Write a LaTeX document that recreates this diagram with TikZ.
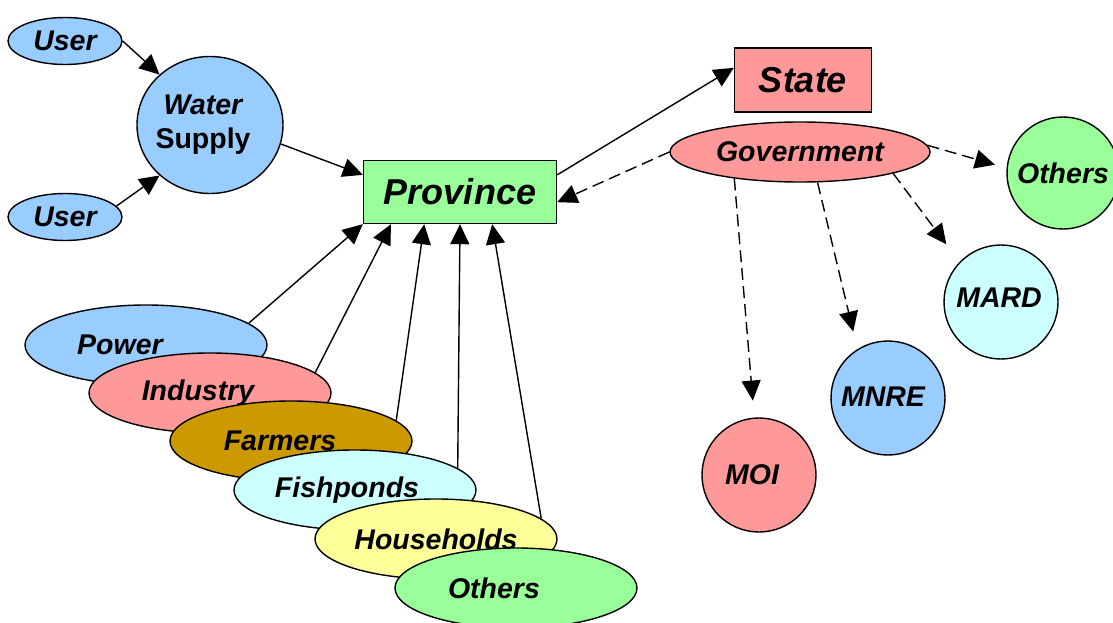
\documentclass[tikz,border=0pt]{standalone}
\usepackage{fontspec}
\setmainfont{Liberation Sans}
\usetikzlibrary{arrows.meta,shapes.geometric}
\definecolor{cblue}{HTML}{99CCFF}
\definecolor{cpink}{HTML}{FF9999}
\definecolor{cgreen}{HTML}{99FF99}
\definecolor{cgold}{HTML}{CC9900}
\definecolor{ccyan}{HTML}{CCFFFF}
\definecolor{cyell}{HTML}{FFFF99}
\tikzset{
  txt/.style={font=\fontsize{28.5}{34}\selectfont\bfseries\itshape},
  base/.style={draw=black, line width=1.4pt, inner sep=0pt, txt},
  ell/.style={base, ellipse},
  circ/.style={base, circle, minimum size=114pt},
  box/.style={base, rectangle, font=\fontsize{36}{40}\selectfont\bfseries\itshape},
  usr/.style={ell, minimum width=114pt, minimum height=47pt, fill=cblue},
  grp/.style={ell, minimum width=242pt, minimum height=80pt},
  lbl/.style={txt},
  arr/.style={-{Triangle[length=20pt,width=19pt]}, line width=1.4pt},
  darr/.style={arr, dash pattern=on 12pt off 6pt},
}
\begin{document}
\begin{tikzpicture}[x=1pt,y=-1pt]
\useasboundingbox (0,0) rectangle (1113,623);
\fill[white] (0,0) rectangle (1113,623);

% left side
\node[usr] (u1) at (65,41) {User};
\node[usr] (u2) at (65,217) {User};
\node[ell, fill=cblue, minimum width=146pt, minimum height=137pt,
  label={[lbl, align=center, shift={(-7,0)}]center:Water\\{\upshape Supply}}] (ws) at (210,125) {};
\node[box, fill=cgreen, minimum width=193pt, minimum height=63pt] (prov) at (460,192) {Province};

% user groups
\node[grp, fill=cblue, label={[lbl, shift={(-26,0)}]center:Power}] (pow) at (146,345) {};
\node[grp, fill=cpink, label={[lbl, shift={(-12,0)}]center:Industry}] (ind) at (210,393) {};
\node[grp, fill=cgold, label={[lbl, shift={(-11,0)}]center:Farmers}] (far) at (291,441) {};
\node[grp, fill=ccyan, label={[lbl, shift={(-8,0)}]center:Fishponds}] (fish) at (355,490) {};
\node[grp, fill=cyell, label={[lbl, shift={(0,0)}]center:Households}] (hh) at (436,539) {};
\node[grp, fill=cgreen, label={[lbl, shift={(-22,0)}]center:Others}] (oth) at (516,588) {};

% right side
\node[box, fill=cpink, minimum width=137pt, minimum height=64pt] (state) at (803,80) {State};
\node[ell, fill=cpink, minimum width=260pt, minimum height=60pt] (gov) at (800,152) {Government};
\node[circ, fill=cgreen, minimum size=112pt] (oth2) at (1063,173) {Others};
\node[circ, fill=ccyan] (mard) at (1001,302) {};
\node[lbl] at (999,298) {MARD};
\node[circ, fill=cblue] (mnre) at (888,398) {};
\node[lbl] at (883,397) {MNRE};
\node[circ, fill=cpink] (moi) at (759,475) {};
\node[lbl] at (752,475) {MOI};

% arrows
\draw[arr] (u1.east) -- (ws.135);
\draw[arr] (u2.12) -- (ws.225);
\draw[arr] (ws.-15) -- (prov.170);
\draw[arr] (pow.12) -- (prov.south west);
\draw[arr] (ind.11) -- (prov.205);
\draw[arr] (far.11) -- (prov.222);
\draw[arr] (fish.12) -- (prov.south);
\draw[arr] (hh.11) -- (prov.315);
\draw[arr] (prov.10) -- (state.170);
\draw[darr] (gov.west) -- (prov.-6);
\draw[darr, shorten >=12pt] (gov.3) -- (oth2.175);
\draw[darr, shorten >=22pt] (gov.-13) -- (mard.136);
\draw[darr, shorten >=18pt] (gov.-60) -- (mnre.122);
\draw[darr, shorten >=17pt] (gov.202) -- (moi);
\end{tikzpicture}
\end{document}
